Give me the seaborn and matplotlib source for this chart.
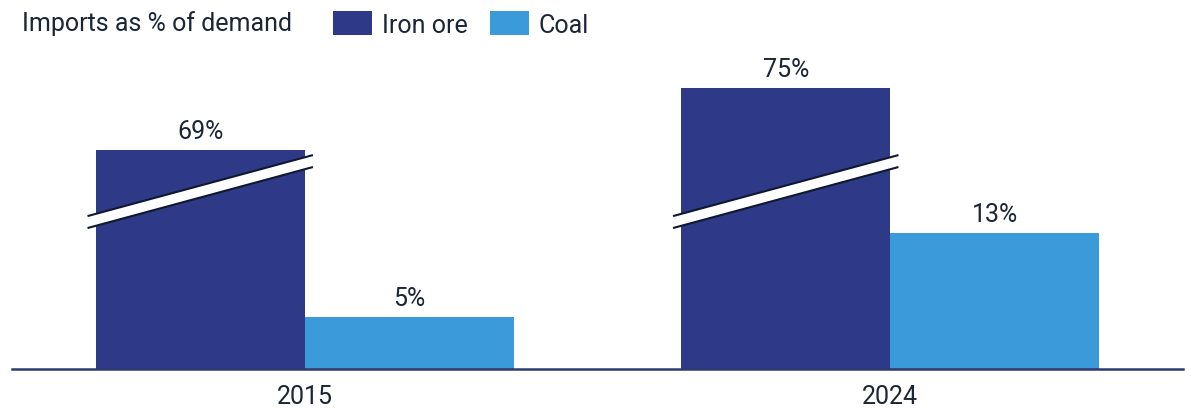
import matplotlib
matplotlib.use("Agg")
import matplotlib.pyplot as plt
import seaborn as sns
import pandas as pd
from matplotlib.patches import Patch, Polygon

# ---- data ----
years = ["2015", "2024"]
series = ["Iron ore", "Coal"]
iron_ore = [69, 75]
coal = [5, 13]
legend_title = "Imports as % of demand"

# ---- style ----
IRON_COLOR = "#2E3A87"
COAL_COLOR = "#3A9ADA"
TEXT_COLOR = "#1B2535"
AXIS_COLOR = "#2E3A6E"
BREAK_OFFSET = 48  # axis break applied to the iron ore bars
FS = 18

sns.set_theme(style="white")
plt.rcParams["font.family"] = ["Roboto", "DejaVu Sans"]

display_iron = [v - BREAK_OFFSET for v in iron_ore]
df = pd.DataFrame({
    "year": years * 2,
    "series": [series[0]] * len(years) + [series[1]] * len(years),
    "shown": display_iron + coal,
    "actual": iron_ore + coal,
})

fig = plt.figure(figsize=(11.91, 4.10), dpi=100)
ax = fig.add_axes([12 / 1191, 40.5 / 410, 1171 / 1191, 315 / 410])

sns.barplot(data=df, x="year", y="shown", hue="series", order=years,
            hue_order=series, palette=[IRON_COLOR, COAL_COLOR],
            width=0.714, saturation=1, dodge=True, ax=ax, legend=False,
            linewidth=0)

ax.set_xlim(-0.5, 1.5)
ax.set_ylim(0, 30.3)
ax.set_xlabel("")
ax.set_ylabel("")
ax.set_yticks([])
for s in ["top", "right", "left"]:
    ax.spines[s].set_visible(False)
ax.spines["bottom"].set_color(AXIS_COLOR)
ax.spines["bottom"].set_linewidth(1.8)
ax.tick_params(axis="x", length=0, pad=11, labelsize=FS, labelcolor=TEXT_COLOR)

# value labels
bars = [p for p in ax.patches if p.get_width() > 0]
n = len(years)
for i, p in enumerate(bars):
    si, yi = divmod(i, n)
    val = df["actual"].iloc[si * n + yi]
    ax.annotate(f"{val}%", (p.get_x() + p.get_width() / 2, p.get_height()),
                xytext=(0, 5), textcoords="offset points", ha="center",
                va="bottom", fontsize=FS, color=TEXT_COLOR)

# break marks on iron ore bars
ext = 0.014
y_lo_top, y_lo_bot = 14.66, 13.51
y_hi_top, y_hi_bot = 20.53, 19.38
for p in bars[:n]:
    x0 = p.get_x() - ext
    x1 = p.get_x() + p.get_width() + ext
    poly = Polygon([(x0, y_lo_bot), (x0, y_lo_top), (x1, y_hi_top), (x1, y_hi_bot)],
                   closed=True, facecolor="white", edgecolor="none", zorder=5)
    ax.add_patch(poly)
    ax.plot([x0, x1], [y_lo_top, y_hi_top], color="#101830", lw=1.5, zorder=6,
            solid_capstyle="butt")
    ax.plot([x0, x1], [y_lo_bot, y_hi_bot], color="#101830", lw=1.5, zorder=6,
            solid_capstyle="butt")

# legend
fig.text(22 / 1191, 1 - 24 / 410, legend_title, fontsize=FS, color=TEXT_COLOR,
         ha="left", va="center")
handles = [Patch(facecolor=IRON_COLOR, edgecolor="none"),
           Patch(facecolor=COAL_COLOR, edgecolor="none")]
fig.legend(handles, series, loc="center left", bbox_to_anchor=(333 / 1191, 1 - 25 / 410),
           ncol=2, frameon=False, fontsize=FS, labelcolor=TEXT_COLOR,
           handlelength=1.55, handleheight=1.1, handletextpad=0.4,
           columnspacing=0.9, borderaxespad=0, borderpad=0)

fig.savefig("out.png", dpi=100)
